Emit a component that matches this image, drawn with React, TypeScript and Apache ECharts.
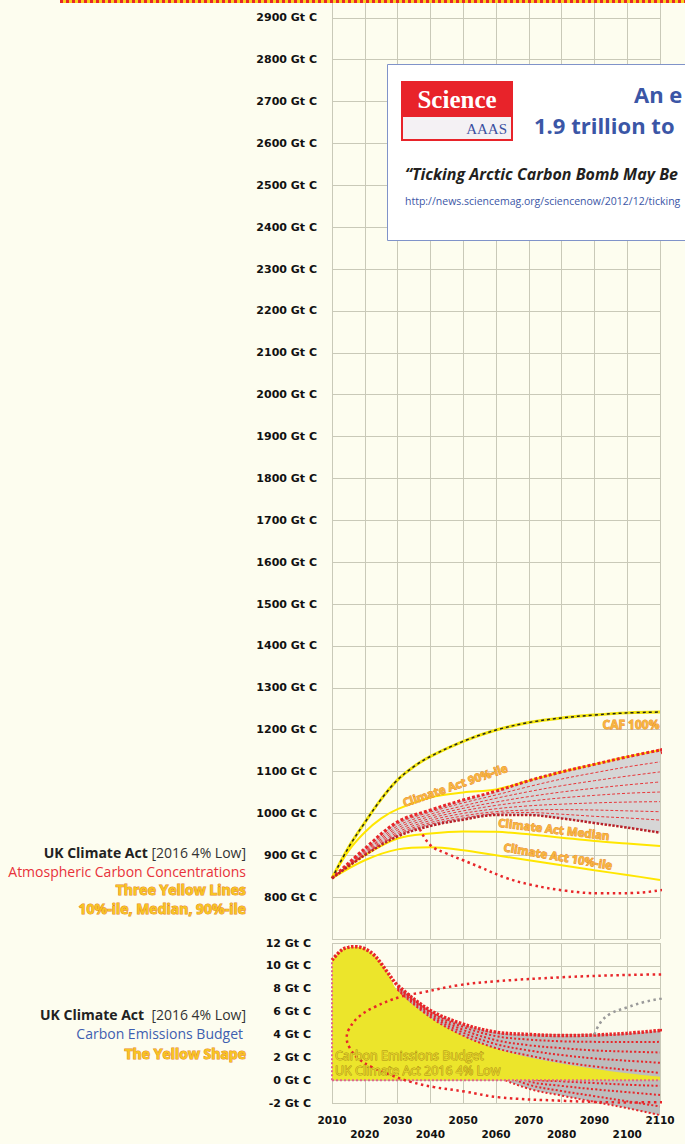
import React, { useEffect, useRef } from 'react';
import * as echarts from 'echarts';

// ---------- Upper panel: atmospheric carbon (Gt C) ----------
const UP_YEARS = [2010, 2020, 2030, 2040, 2050, 2060, 2070, 2080, 2090, 2100, 2110];
const CAF_YEARS = [2010, 2015, 2020, 2025, 2030, 2035, 2040, 2050, 2060, 2070, 2080, 2090, 2100, 2110];
const CAF_100 = [845, 918, 978, 1034, 1080, 1112, 1136, 1172, 1199, 1217, 1228, 1235, 1240, 1242];
const P90_YEARS = [2010, 2015, 2020, 2025, 2030, 2040, 2050, 2060, 2070, 2080, 2090, 2100, 2110];
const ACT_P90 = [845, 910, 955, 988, 1010, 1038, 1050, 1057, 1078, 1099, 1117, 1135, 1151];
const ACT_MEDIAN = [845, 900, 940, 952, 957, 956, 950, 942, 934, 928, 922];
const ACT_P10 = [845, 888, 914, 919, 912, 900, 888, 876, 864, 853, 841];
const UF1 = [845, 916, 980, 1008, 1032, 1053, 1078, 1099, 1117, 1135, 1151];
const UF2 = [845, 913, 975, 1003, 1025, 1044, 1064, 1082, 1097, 1111, 1123];
const UF3 = [845, 910, 970, 998, 1018, 1036, 1052, 1066, 1078, 1089, 1099];
const UF4 = [845, 908, 965, 993, 1012, 1027, 1040, 1051, 1060, 1068, 1075];
const UF5 = [845, 906, 960, 988, 1006, 1019, 1029, 1037, 1043, 1048, 1051];
const UF6 = [845, 904, 955, 983, 1000, 1011, 1018, 1022, 1025, 1027, 1028];
const UF7 = [845, 902, 951, 978, 994, 1004, 1008, 1009, 1008, 1006, 1004];
const UF8 = [845, 901, 948, 974, 989, 1000, 1002, 998, 993, 989, 984];
const UF9 = [845, 900, 945, 970, 985, 996, 996, 988, 977, 966, 954];
const UP_LOOP_X = [2036.8, 2040, 2045, 2050, 2055, 2063, 2071, 2081.5, 2091.7, 2102, 2110.5, 2117.6];
const UP_LOOP_Y = [962, 924, 904, 888, 872, 846, 829, 815, 809, 810, 817, 829];
const UP_RIGHT_X = [2110.5, 2111.5, 2113, 2114.5, 2117.6];
const UP_RIGHT_Y = [1148, 1130, 1112, 1097, 1075];
const UP_TOP_EXT_X = [2110, 2117.6];
const UP_TOP_EXT_Y = [1151, 1171];
const UP_GRAY_EXT_Y = [1151, 1151];

// ---------- Lower panel: emissions (Gt C / yr) ----------
const PEAK_YEARS = [2010, 2013, 2015, 2017, 2019, 2021, 2023, 2025, 2027];
const PEAK = [10.5, 11.4, 11.62, 11.68, 11.6, 11.35, 10.9, 10.2, 9.4];
const FAN_YEARS = [2030, 2040, 2050, 2060, 2070, 2080, 2090, 2100, 2110];
const LF1 = [8.3, 6.1, 4.9, 4.2, 4.0, 3.9, 3.95, 4.1, 4.35];
const LF2 = [8.2, 5.95, 4.65, 3.85, 3.55, 3.4, 3.35, 3.33, 3.35];
const LF3 = [8.1, 5.8, 4.4, 3.5, 3.05, 2.8, 2.6, 2.5, 2.42];
const LF4 = [8.0, 5.65, 4.15, 3.15, 2.6, 2.2, 1.9, 1.7, 1.52];
const LF5 = [7.9, 5.5, 3.9, 2.8, 2.15, 1.6, 1.2, 0.9, 0.64];
const YELLOW_TAIL = [7.85, 5.45, 3.85, 2.75, 2.0, 1.45, 1.0, 0.6, 0.3];
const LF6 = [7.8, 5.2, 3.3, 1.6, 0.15, -0.1, -0.25, -0.4, -0.5];
const LF7 = [7.7, 5.0, 3.0, 1.2, -0.1, -0.5, -0.8, -1.05, -1.3];
const LF8 = [7.6, 4.8, 2.7, 0.8, -0.4, -0.95, -1.4, -1.85, -2.3];
const LF9 = [7.5, 4.6, 2.4, 0.4, -0.75, -1.35, -1.9, -2.45, -3.06];
const LO_LOOP_X = [2117.6, 2100, 2080, 2060, 2048.5, 2038, 2031, 2023, 2018, 2015, 2014.5, 2015.5, 2018, 2022, 2028, 2034, 2041, 2050.5, 2061, 2080, 2100, 2117.6];
const LO_LOOP_Y = [9.27, 9.2, 9.0, 8.65, 8.3, 7.7, 7.3, 6.4, 5.5, 4.37, 3.65, 2.77, 1.9, 1.16, 0.44, -0.15, -0.6, -1.0, -1.5, -1.8, -1.95, -1.9];
const LO_GRAY_X = [2090, 2092, 2095, 2100.3, 2105.4, 2110.5, 2117.6];
const LO_GRAY_Y = [4.0, 5.1, 5.83, 6.4, 6.85, 7.15, 7.5];
const LO_TOP_EXT_X = [2110, 2117.6];
const LO_TOP_EXT_Y = [4.35, 4.8];
const BORDER_ZERO_X = [2010, 2110];
const BORDER_ZERO_Y = [0, 0];
const BORDER_EDGE_X = [2010, 2010];
const BORDER_EDGE_Y = [0, 10.5];

// ticks
const X_MIN = 2010, X_MAX = 2110, X_STEP = 10;
const UP_MIN = 700, UP_MAX = 2940, UP_STEP = 100;
const LO_MIN = -2, LO_MAX = 12, LO_STEP = 2;

const BG = '#fdfdef';
const GRID_C = '#c9c9b8';
const RED = '#e8262a';
const UI = '"Open Sans", "Noto Sans", sans-serif';
const AX = '"DejaVu Sans", sans-serif';

const pairs = (xs: number[], ys: number[]) => xs.map((x, i) => [x, ys[i]]);

function ln(name: string, data: any[], g: number, lineStyle: any, extra: any = {}) {
  return {
    type: 'line', name, data, xAxisIndex: g, yAxisIndex: g, symbol: 'none', showSymbol: false,
    smooth: 0.35, lineStyle, silent: true, clip: false, animation: false, ...extra,
  };
}

// filled band between two lines, positioned through the axes' scales
function band(name: string, xs: number[], top: number[], bottom: number[], g: number, color: string, z: number) {
  return {
    type: 'custom', name, xAxisIndex: g, yAxisIndex: g, z, silent: true, clip: false,
    data: [[xs[0], top[0]]],
    renderItem: (_p: any, api: any) => {
      const up = xs.map((x, i) => api.coord([x, top[i]]));
      const dn = xs.map((x, i) => api.coord([x, bottom[i]])).reverse();
      // repeat the corner vertices so the smoothing keeps the band's ends sharp
      const pts = [up[0], ...up, up[up.length - 1], dn[0], ...dn, dn[dn.length - 1]];
      return { type: 'polygon', shape: { points: pts, smooth: 0.3 }, style: { fill: color } };
    },
  };
}

const outlined = (fill: string, stroke: string, lw = 1) => ({ fill, stroke, lineWidth: lw });

export default function App() {
  const ref = useRef<HTMLDivElement>(null);
  useEffect(() => {
    if (!ref.current) return;
    const chart = echarts.init(ref.current, null, { renderer: 'svg' });
    const peakPlusL1 = [...pairs(PEAK_YEARS, PEAK), ...pairs(FAN_YEARS, LF1)];
    const yellowTop = [...pairs(PEAK_YEARS, PEAK), ...pairs(FAN_YEARS, YELLOW_TAIL)];
    const thinRed = { color: '#e8363a', width: 1, type: [3, 2] };
    const lowDot = { color: RED, width: 2, type: [2, 2.2] };
    const series: any[] = [
      // upper panel
      band('upper spread', UP_YEARS, UF1, UF9, 0, '#d6d6d6', 2),
      ln('CAF 100% base', pairs(CAF_YEARS, CAF_100), 0, { color: '#f2e40a', width: 3 }, { z: 3 }),
      ln('CAF 100%', pairs(CAF_YEARS, CAF_100), 0, { color: '#222', width: 1.5, type: [3, 3] }, { z: 4 }),
      ln('Climate Act 90%-ile', pairs(P90_YEARS, ACT_P90), 0, { color: '#ffe600', width: 2 }, { z: 3 }),
      ln('Climate Act Median', pairs(UP_YEARS, ACT_MEDIAN), 0, { color: '#ffe600', width: 2 }, { z: 3 }),
      ln('Climate Act 10%-ile', pairs(UP_YEARS, ACT_P10), 0, { color: '#ffe600', width: 2 }, { z: 3 }),
      ...[UF2, UF3, UF4, UF5, UF6, UF7, UF8].map((d, i) => ln('uf' + (i + 2), pairs(UP_YEARS, d), 0, thinRed, { z: 4 })),
      ln('uf1', pairs(UP_YEARS, UF1), 0, { color: RED, width: 3, type: [3, 2] }, { z: 5 }),
      ln('uf9', pairs(UP_YEARS, UF9), 0, { color: '#b8222a', width: 2.5, type: [2.5, 1.5] }, { z: 5 }),
      ln('upTopExt', pairs(UP_TOP_EXT_X, UP_TOP_EXT_Y), 0, { color: RED, width: 3, type: [3, 2] }, { z: 5, smooth: false }),
      ln('upGrayExt', pairs(UP_TOP_EXT_X, UP_GRAY_EXT_Y), 0, { color: '#9a9a9a', width: 2.5, type: [2.5, 2.5] }, { z: 4, smooth: false }),
      ln('upLoop', pairs(UP_LOOP_X, UP_LOOP_Y), 0, { color: RED, width: 2.5, type: [2.5, 3.5] }, { z: 5, smooth: 0.4 }),
      ln('upRight', pairs(UP_RIGHT_X, UP_RIGHT_Y), 0, { color: RED, width: 2.5, type: [2.5, 3.5] }, { z: 5, smooth: 0.4 }),
      // lower panel
      band('lower spread', FAN_YEARS, LF1, LF9, 1, '#bdbdbd', 1),
      ...[LF6, LF7, LF8, LF9].map((d, i) => ln('lf' + (i + 6), pairs(FAN_YEARS, d), 1, lowDot, { z: 2 })),
      ln('Carbon Emissions Budget', yellowTop, 1, { width: 0, opacity: 0 }, { areaStyle: { color: '#ece52b', opacity: 1 }, z: 3 }),
      ln('zeroBorder', pairs(BORDER_ZERO_X, BORDER_ZERO_Y), 1, { color: '#e2658a', width: 2, type: [2, 2] }, { z: 4, smooth: false }),
      ln('edgeBorder', pairs(BORDER_EDGE_X, BORDER_EDGE_Y), 1, { color: '#e2658a', width: 2, type: [2, 2] }, { z: 4, smooth: false }),
      ...[LF2, LF3, LF4, LF5].map((d, i) => ln('lf' + (i + 2), pairs(FAN_YEARS, d), 1, lowDot, { z: 4 })),
      ln('lf1', peakPlusL1, 1, { color: RED, width: 3.5, type: [2.5, 1.5] }, { z: 5 }),
      ln('loTopExt', pairs(LO_TOP_EXT_X, LO_TOP_EXT_Y), 1, { color: RED, width: 2.5, type: [2.5, 3.5] }, { z: 5, smooth: false }),
      ln('loLoop', pairs(LO_LOOP_X, LO_LOOP_Y), 1, { color: RED, width: 2.5, type: [2.5, 3.5] }, { z: 5, smooth: 0.4 }),
      ln('loGray', pairs(LO_GRAY_X, LO_GRAY_Y), 1, { color: '#9a9a9a', width: 2.5, type: [2.5, 3.5] }, { z: 5, smooth: 0.4 }),
    ];

    const xAxisBase = {
      type: 'value', min: X_MIN, max: X_MAX, interval: X_STEP,
      axisLine: { show: false }, axisTick: { show: false },
      splitLine: { show: true, lineStyle: { color: GRID_C, width: 1 } },
    };
    const yLabel = { fontFamily: AX, fontWeight: 'bold', fontSize: 11, color: '#111' };

    const orangeLbl = (text: string, x: number, y: number, rotation: number, size = 11.5) => ({
      type: 'text', x, y, rotation, z: 100,
      style: { text, align: 'center', verticalAlign: 'middle', font: `bold ${size}px ${UI}`, ...outlined('#f7b53c', '#e8862a', 0.8) },
    });

    const graphic: any[] = [
      { type: 'line', z: 100, shape: { x1: 60, y1: 1.5, x2: 685, y2: 1.5 }, style: { stroke: '#f6d21a', lineWidth: 3 } },
      { type: 'line', z: 101, shape: { x1: 60, y1: 1.5, x2: 685, y2: 1.5 }, style: { stroke: RED, lineWidth: 3, lineDash: [3, 3] } },
      // Science box
      { type: 'rect', z: 100, shape: { x: 387.5, y: 64.5, width: 330, height: 176 }, style: { fill: '#ffffff', stroke: '#8093c9', lineWidth: 1 } },
      { type: 'rect', z: 101, shape: { x: 401, y: 81, width: 112, height: 60 }, style: { fill: '#e8232a' } },
      { type: 'rect', z: 102, shape: { x: 403, y: 117, width: 108, height: 22 }, style: { fill: '#f4f1f4' } },
      { type: 'text', z: 103, x: 457, y: 99, style: { text: 'Science', align: 'center', verticalAlign: 'middle', font: 'bold 25px "Liberation Serif", serif', fill: '#ffffff' } },
      { type: 'text', z: 103, x: 507, y: 129, style: { text: 'AAAS', align: 'right', verticalAlign: 'middle', font: '15px "Liberation Serif", serif', fill: '#3b4fa0' } },
      { type: 'text', z: 103, x: 634, y: 94, style: { text: 'An e', align: 'left', verticalAlign: 'middle', font: `bold 22px ${UI}`, fill: '#3b56a6' } },
      { type: 'text', z: 103, x: 534, y: 125, style: { text: '1.9 trillion to', align: 'left', verticalAlign: 'middle', font: `bold 22px ${UI}`, fill: '#3b56a6' } },
      { type: 'text', z: 103, x: 405, y: 174, style: { text: '“Ticking Arctic Carbon Bomb May Be', align: 'left', verticalAlign: 'middle', font: `italic bold 16px ${UI}`, fill: '#231f20' } },
      { type: 'text', z: 103, x: 405, y: 201, style: { text: 'http://news.sciencemag.org/sciencenow/2012/12/ticking', align: 'left', verticalAlign: 'middle', font: `10.5px ${UI}`, fill: '#3b56a6' } },
      // left legends (upper)
      { type: 'text', z: 100, x: 246, y: 852, style: { text: '{b|UK Climate Act} [2016 4% Low]', align: 'right', verticalAlign: 'middle', font: `14px ${UI}`, fill: '#333', rich: { b: { fontWeight: 'bold', fontSize: 14, fontFamily: UI, fill: '#222' } } } },
      { type: 'text', z: 100, x: 246, y: 871, style: { text: 'Atmospheric Carbon Concentrations', align: 'right', verticalAlign: 'middle', font: `14px ${UI}`, fill: '#e8323a' } },
      { type: 'text', z: 100, x: 246, y: 889, style: { text: 'Three Yellow Lines', align: 'right', verticalAlign: 'middle', font: `bold 14px ${UI}`, ...outlined('#f7c522', '#e8862a', 1) } },
      { type: 'text', z: 100, x: 246, y: 908, style: { text: '10%-ile, Median, 90%-ile', align: 'right', verticalAlign: 'middle', font: `bold 14px ${UI}`, ...outlined('#f7c522', '#e8862a', 1) } },
      // left legends (lower)
      { type: 'text', z: 100, x: 246, y: 1014, style: { text: '{b|UK Climate Act}  [2016 4% Low]', align: 'right', verticalAlign: 'middle', font: `14px ${UI}`, fill: '#333', rich: { b: { fontWeight: 'bold', fontSize: 14, fontFamily: UI, fill: '#222' } } } },
      { type: 'text', z: 100, x: 243, y: 1033, style: { text: 'Carbon Emissions Budget', align: 'right', verticalAlign: 'middle', font: `14px ${UI}`, fill: '#3f5fb0' } },
      { type: 'text', z: 100, x: 246, y: 1053, style: { text: 'The Yellow Shape', align: 'right', verticalAlign: 'middle', font: `bold 14px ${UI}`, ...outlined('#f7c522', '#e8862a', 1) } },
      // in-plot labels
      orangeLbl('CAF 100%', 631, 724, 0, 12),
      orangeLbl('Climate Act 90%-ile', 455, 785, 0.33),
      orangeLbl('Climate Act Median', 554, 829, -0.12),
      orangeLbl('Climate Act 10%-ile', 558, 856, -0.17),
      { type: 'text', z: 100, x: 335, y: 1055, style: { text: 'Carbon Emissions Budget', align: 'left', verticalAlign: 'middle', font: `12.5px ${UI}`, ...outlined('#e4d42a', '#a88a14', 0.8) } },
      { type: 'text', z: 100, x: 335, y: 1070, style: { text: 'UK Climate Act 2016 4% Low', align: 'left', verticalAlign: 'middle', font: `12.5px ${UI}`, ...outlined('#e4d42a', '#a88a14', 0.8) } },
    ];

    chart.setOption({
      animation: false,
      backgroundColor: BG,
      grid: [
        { left: 332, right: 25, top: 1, height: 938 },
        { left: 332, right: 25, top: 943, height: 160 },
      ],
      xAxis: [
        { ...xAxisBase, gridIndex: 0, axisLabel: { show: false } },
        {
          ...xAxisBase, gridIndex: 1,
          axisLabel: {
            show: true, margin: 10, fontFamily: AX, fontWeight: 'bold', fontSize: 10.5, color: '#111', lineHeight: 14,
            formatter: (v: number) => (((v - X_MIN) / X_STEP) % 2 === 1 ? '\n' + v : String(v)),
          },
        },
      ],
      yAxis: [
        {
          type: 'value', gridIndex: 0, min: UP_MIN, max: UP_MAX, interval: UP_STEP,
          axisLine: { show: false }, axisTick: { show: false },
          splitLine: { show: true, lineStyle: { color: GRID_C, width: 1 } },
          axisLabel: { ...yLabel, margin: 15, showMinLabel: false, showMaxLabel: false, formatter: (v: number) => (v % 100 === 0 && v > UP_MIN ? `${v} Gt C` : '') },
        },
        {
          type: 'value', gridIndex: 1, min: LO_MIN, max: LO_MAX, interval: LO_STEP,
          axisLine: { show: false }, axisTick: { show: false },
          splitLine: { show: true, lineStyle: { color: GRID_C, width: 1 } },
          axisLabel: { ...yLabel, margin: 21, formatter: (v: number) => `${v} Gt C` },
        },
      ],
      series,
      graphic,
    });
    return () => chart.dispose();
  }, []);
  return <div ref={ref} style={{ position: 'absolute', left: 0, top: 0, width: 685, height: 1144 }} />;
}
